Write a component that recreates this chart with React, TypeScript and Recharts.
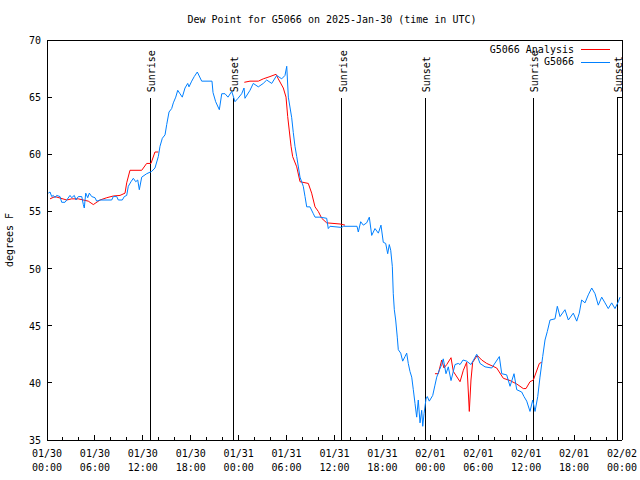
import React from "react";
import { LineChart, Line, XAxis, YAxis, ReferenceLine } from "recharts";

const FONT = "'DejaVu Sans Mono', 'Liberation Mono', monospace";
const BLUE = "#0080ff";
const RED = "#ff0000";

// hours since 2025-01-30 00:00 UTC, dew point in degrees F
const stationReadings: [number, number][] = [
  [0.16, 56.6], [0.38, 56.7], [0.59, 56.3], [0.79, 56.4], [1.0, 56.2], [1.21, 56.4],
  [1.63, 56.3], [1.84, 55.8], [2.25, 55.8], [2.47, 56.0], [2.88, 56.4], [3.09, 56.2],
  [3.42, 56.4], [3.63, 56.0], [3.92, 56.3], [4.35, 56.3], [4.55, 55.6], [4.67, 55.3],
  [4.85, 56.6], [5.1, 56.2], [5.3, 56.6], [5.6, 56.3], [6.01, 56.2], [6.22, 55.9],
  [6.64, 56.0], [8.1, 56.0], [8.3, 56.3], [8.73, 56.3], [8.93, 56.0], [9.43, 56.0],
  [9.68, 56.3], [9.98, 56.4], [10.18, 57.2], [10.52, 57.6], [10.81, 57.9], [11.11, 57.6],
  [11.36, 57.75], [11.56, 56.9], [11.86, 58.0], [12.48, 58.3], [13.11, 58.5], [13.52, 58.8],
  [13.94, 59.8], [14.15, 60.7], [14.44, 61.4], [14.78, 61.7], [14.99, 62.6], [15.28, 63.7],
  [15.61, 64.0], [15.82, 64.5], [16.12, 65.0], [16.37, 65.6], [16.65, 65.3], [16.94, 65.0],
  [17.28, 65.8], [17.62, 66.2], [17.78, 65.9], [18.12, 66.4], [18.44, 66.8], [18.82, 67.2],
  [19.37, 66.4], [20.66, 66.4], [20.79, 65.4], [21.12, 64.6], [21.58, 63.9], [21.88, 65.3],
  [22.29, 65.3], [22.66, 65.0], [23.13, 65.5], [23.54, 64.6], [23.92, 64.9], [24.38, 65.3],
  [24.67, 65.8], [24.79, 64.9], [25.42, 65.6], [25.83, 66.2], [26.46, 65.9], [27.08, 66.2],
  [27.51, 66.5], [28.14, 66.2], [28.76, 66.9], [29.39, 66.6], [29.8, 66.9], [30.02, 67.7],
  [30.22, 65.0], [30.64, 63.2], [30.84, 61.9], [31.05, 60.7], [31.27, 59.8], [31.68, 58.0],
  [32.09, 57.2], [32.31, 56.3], [32.52, 55.4], [32.93, 55.4], [33.35, 54.8], [33.56, 54.5],
  [34.18, 54.5], [35.02, 54.4], [35.22, 53.5], [35.44, 53.7], [36.9, 53.6], [37.1, 53.7],
  [38.82, 53.7], [38.98, 53.2], [39.28, 54.1], [39.61, 53.8], [40.03, 54.0], [40.36, 54.5],
  [40.66, 52.9], [41.07, 53.5], [41.49, 53.1], [41.82, 53.8], [42.11, 52.3], [42.41, 52.2],
  [42.66, 51.3], [42.86, 52.1], [43.04, 51.6], [43.24, 50.2], [43.36, 47.8], [43.49, 46.4],
  [43.66, 45.5], [43.86, 44.0], [43.99, 42.9], [44.29, 42.6], [44.54, 41.9], [44.83, 42.3],
  [45.04, 42.6], [45.24, 41.7], [45.45, 41.0], [45.67, 40.5], [45.87, 39.4], [46.08, 38.2],
  [46.29, 37.0], [46.49, 38.5], [46.71, 36.5], [46.92, 37.6], [47.05, 36.2], [47.21, 37.3],
  [47.46, 38.6], [47.62, 38.8], [47.87, 38.4], [48.3, 38.9], [48.58, 39.8], [48.8, 40.5],
  [49.12, 41.1], [49.42, 41.6], [49.62, 42.1], [49.96, 40.8], [50.25, 41.4], [50.59, 40.2],
  [51.09, 41.6], [51.5, 41.7], [51.72, 41.6], [52.1, 42.0], [52.55, 41.9], [53.09, 41.6],
  [53.81, 42.5], [54.22, 41.7], [54.85, 41.4], [55.69, 41.3], [56.64, 42.3], [56.94, 40.8],
  [57.56, 40.7], [57.98, 39.7], [58.48, 40.8], [58.82, 39.4], [59.44, 39.2], [59.73, 38.8],
  [60.07, 38.4], [60.48, 37.5], [60.82, 38.5], [61.11, 37.5], [61.45, 38.8], [61.73, 40.5],
  [62.07, 42.3], [62.36, 43.75], [62.65, 44.5], [62.99, 45.5], [63.61, 45.6], [63.9, 46.7],
  [64.24, 45.8], [64.86, 46.4], [65.28, 45.5], [65.9, 46.1], [66.33, 45.4], [66.65, 46.1],
  [66.95, 47.25], [67.37, 47.0], [67.78, 47.7], [68.21, 48.3], [68.62, 47.8], [69.03, 46.8],
  [69.46, 47.5], [69.87, 47.0], [70.28, 46.5], [70.71, 47.0], [71.12, 46.5], [71.54, 47.1],
  [71.75, 47.5],
];

// analysis runs only cover three windows
const analysisJan30: [number, number][] = [
  [0.38, 56.1], [1.0, 56.3], [2.47, 56.0], [3.09, 56.1], [3.92, 56.1], [5.17, 55.9],
  [5.8, 55.6], [6.64, 56.0], [7.48, 56.2], [8.3, 56.35], [9.14, 56.4], [9.77, 56.6],
  [9.98, 57.5], [10.39, 58.6], [11.86, 58.6], [12.48, 59.2], [13.02, 59.2], [13.52, 60.2],
  [13.94, 60.2],
];

const analysisJan31: [number, number][] = [
  [24.71, 66.3], [25.42, 66.4], [26.46, 66.4], [27.08, 66.6], [27.92, 66.8], [28.68, 67.0],
  [28.96, 66.6], [29.59, 65.8], [29.93, 65.0], [30.14, 63.3], [30.56, 60.7], [30.76, 59.8],
  [31.27, 58.9], [31.68, 57.6], [32.72, 57.45], [33.14, 56.6], [33.56, 55.4], [33.97, 55.0],
  [34.4, 54.4], [35.02, 54.0], [36.69, 53.9], [37.32, 53.8],
];

const analysisFeb01: [number, number][] = [
  [48.58, 40.8], [49.0, 40.8], [49.42, 42.0], [49.71, 41.3], [50.05, 41.6], [50.59, 42.2],
  [50.88, 41.0], [51.72, 40.1], [52.13, 41.1], [52.55, 41.8], [52.68, 40.25], [52.88, 37.5],
  [53.09, 40.25], [53.3, 41.8], [53.88, 42.4], [54.43, 42.0], [55.06, 41.7], [56.31, 41.3],
  [57.14, 40.4], [57.98, 40.2], [58.82, 39.9], [59.64, 39.5], [59.98, 39.5], [60.48, 40.1],
  [60.9, 40.25], [61.65, 41.7], [61.95, 41.8],
];

const sunEvents = [
  { hour: 12.93, label: "Sunrise" },
  { hour: 23.33, label: "Sunset" },
  { hour: 36.9, label: "Sunrise" },
  { hour: 47.37, label: "Sunset" },
  { hour: 60.9, label: "Sunrise" },
  { hour: 71.4, label: "Sunset" },
];
const SUN_LINE_TOP = 64.9; // vertical lines stop under their labels

const tickDates = ["01/30", "01/30", "01/30", "01/30", "01/31", "01/31", "01/31", "01/31", "02/01", "02/01", "02/01", "02/01", "02/02"];
const tickTimes = ["00:00", "06:00", "12:00", "18:00", "00:00", "06:00", "12:00", "18:00", "00:00", "06:00", "12:00", "18:00", "00:00"];
const majorHours = tickDates.map((_, i) => i * 6);
const minorHours = Array.from({ length: 37 }, (_, i) => i * 2);
const yTicks = [35, 40, 45, 50, 55, 60, 65, 70];

const toPoints = (rows: [number, number][]) => rows.map(([h, v]) => ({ h, v }));

const CRISP = "crispEdges";

function BottomTick({ x, y, payload }: any) {
  const i = majorHours.indexOf(payload.value);
  const major = i >= 0;
  return (
    <g>
      <line x1={x} x2={x} y1={y} y2={y - (major ? 5 : 3)} stroke="#000" shapeRendering={CRISP} />
      {major && (
        <text fontFamily={FONT} fontSize={10} fill="#000" textAnchor="middle">
          <tspan x={x} y={y + 17}>{tickDates[i]}</tspan>
          <tspan x={x} y={y + 31}>{tickTimes[i]}</tspan>
        </text>
      )}
    </g>
  );
}

function TopTick({ x, y, payload }: any) {
  const major = majorHours.includes(payload.value);
  return <line x1={x} x2={x} y1={y} y2={y + (major ? 5 : 3)} stroke="#000" shapeRendering={CRISP} />;
}

function LeftTick({ x, y, payload }: any) {
  return (
    <g>
      <line x1={x} x2={x + 5} y1={y} y2={y} stroke="#000" shapeRendering={CRISP} />
      <text x={x - 6} y={y + 4} textAnchor="end" fontFamily={FONT} fontSize={10} fill="#000">
        {payload.value}
      </text>
    </g>
  );
}

function RightTick({ x, y }: any) {
  return <line x1={x} x2={x - 5} y1={y} y2={y} stroke="#000" shapeRendering={CRISP} />;
}

function SunLabel(props: any) {
  const { viewBox, text } = props;
  if (!viewBox) return null;
  const x = viewBox.x ?? viewBox.x1;
  const top = viewBox.y ?? Math.min(viewBox.y1, viewBox.y2);
  return (
    <text
      transform={`translate(${x + 5},${top - 6}) rotate(-90)`}
      fontFamily={FONT}
      fontSize={10}
      fill="#000"
    >
      {text}
    </text>
  );
}

const textStyle: React.CSSProperties = {
  position: "absolute",
  fontFamily: FONT,
  fontSize: 10,
  lineHeight: "12px",
  color: "#000",
  whiteSpace: "nowrap",
};

const frameLine = { stroke: "#000", shapeRendering: CRISP };

export default function App() {
  return (
    <div style={{ position: "absolute", left: 0, top: 0, width: 640, height: 480, background: "#fff" }}>
      <LineChart width={640} height={480} margin={{ top: 0, right: 0, bottom: 0, left: 0 }}>
        <XAxis
          xAxisId="main"
          dataKey="h"
          type="number"
          domain={[0, 72]}
          allowDataOverflow
          ticks={minorHours}
          interval={0}
          height={40}
          tickSize={0}
          tickMargin={0}
          tickLine={false}
          axisLine={frameLine}
          tick={<BottomTick />}
        />
        <XAxis
          xAxisId="top"
          orientation="top"
          type="number"
          domain={[0, 72]}
          allowDataOverflow
          ticks={minorHours}
          interval={0}
          height={40}
          tickSize={0}
          tickMargin={0}
          tickLine={false}
          axisLine={frameLine}
          tick={<TopTick />}
        />
        <YAxis
          yAxisId="left"
          type="number"
          domain={[35, 70]}
          allowDataOverflow
          ticks={yTicks}
          interval={0}
          width={47}
          tickSize={0}
          tickMargin={0}
          tickLine={false}
          axisLine={frameLine}
          tick={<LeftTick />}
        />
        <YAxis
          yAxisId="right"
          orientation="right"
          type="number"
          domain={[35, 70]}
          allowDataOverflow
          ticks={yTicks}
          interval={0}
          width={18}
          tickSize={0}
          tickMargin={0}
          tickLine={false}
          axisLine={frameLine}
          tick={<RightTick />}
        />
        {sunEvents.map((e, i) => (
          <ReferenceLine
            key={i}
            xAxisId="main"
            yAxisId="left"
            segment={[{ x: e.hour, y: 35 }, { x: e.hour, y: SUN_LINE_TOP }]}
            stroke="#000"
            strokeWidth={1}
            shapeRendering={CRISP}
            ifOverflow="visible"
            label={<SunLabel text={e.label} />}
          />
        ))}
        {[analysisJan30, analysisJan31, analysisFeb01].map((seg, i) => (
          <Line
            key={`a${i}`}
            xAxisId="main"
            yAxisId="left"
            data={toPoints(seg)}
            dataKey="v"
            type="linear"
            stroke={RED}
            strokeWidth={1}
            dot={false}
            activeDot={false}
            isAnimationActive={false}
          />
        ))}
        <Line
          xAxisId="main"
          yAxisId="left"
          data={toPoints(stationReadings)}
          dataKey="v"
          type="linear"
          stroke={BLUE}
          strokeWidth={1}
          dot={false}
          activeDot={false}
          isAnimationActive={false}
        />
      </LineChart>

      <div style={{ ...textStyle, left: 0, width: 664, top: 14, textAlign: "center" }}>
        Dew Point for G5066 on 2025-Jan-30 (time in UTC)
      </div>
      <div
        style={{
          ...textStyle,
          left: 10,
          top: 240,
          transform: "translate(-50%, -50%) rotate(-90deg)",
        }}
      >
        degrees F
      </div>

      {/* legend, no background: the Sunrise label shows through like the original */}
      <div style={{ ...textStyle, right: 66, top: 44, textAlign: "right" }}>G5066 Analysis</div>
      <div style={{ position: "absolute", left: 581, top: 49, width: 29, height: 1, background: RED }} />
      <div style={{ ...textStyle, right: 66, top: 56, textAlign: "right" }}>G5066</div>
      <div style={{ position: "absolute", left: 581, top: 62, width: 29, height: 1, background: BLUE }} />
    </div>
  );
}
